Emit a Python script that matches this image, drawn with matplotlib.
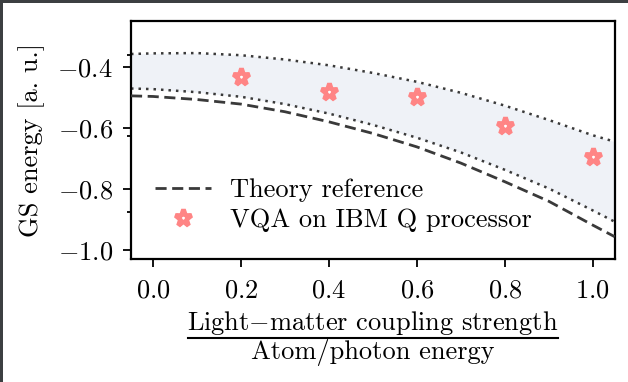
import matplotlib
matplotlib.use("Agg")
import matplotlib.pyplot as plt
from matplotlib.patches import Rectangle
from matplotlib.lines import Line2D
from matplotlib.ticker import FixedLocator

plt.rcParams['font.family'] = 'serif'
plt.rcParams['font.serif'] = ['cmr10']
plt.rcParams['mathtext.fontset'] = 'cm'
plt.rcParams['axes.formatter.use_mathtext'] = True
plt.rcParams['font.size'] = 19

# Theory reference curve
theory_x = [-0.05, 0.0, 0.1, 0.2, 0.3, 0.4, 0.5, 0.6, 0.7, 0.8, 0.9, 1.0, 1.05]
theory_y = [-0.495, -0.497, -0.507, -0.522, -0.547, -0.580, -0.618, -0.662, -0.715, -0.776, -0.840, -0.918, -0.956]

# Lower bound (dotted)
lower_y = [-0.471, -0.473, -0.483, -0.498, -0.522, -0.553, -0.590, -0.632, -0.680, -0.737, -0.798, -0.870, -0.907]

# Upper bound (dotted)
upper_y = [-0.358, -0.356, -0.355, -0.362, -0.376, -0.395, -0.420, -0.449, -0.485, -0.527, -0.574, -0.624, -0.645]

# VQA on IBM Q processor
vqa_x = [0.2, 0.4, 0.6, 0.8, 1.0]
vqa_y = [-0.433, -0.482, -0.500, -0.593, -0.695]

xticks = [0.0, 0.2, 0.4, 0.6, 0.8, 1.0]
yticks = [-1.0, -0.8, -0.6, -0.4]
yminor = [-0.875, -0.625, -0.36]

W, H = 628, 382
fig = plt.figure(figsize=(W / 100, H / 100), dpi=100)
ax_l, ax_r, ax_t, ax_b = 131, 614.7, 21, 259.3
ax = fig.add_axes([ax_l / W, 1 - ax_b / H, (ax_r - ax_l) / W, (ax_b - ax_t) / H])

line_col = '#3a3a3a'
ax.fill_between(theory_x, lower_y, upper_y, color='#eff2f7', linewidth=0, zorder=1)
ax.plot(theory_x, lower_y, linestyle=(0, (1, 2)), color=line_col, lw=1.8, zorder=2)
ax.plot(theory_x, upper_y, linestyle=(0, (1, 2)), color=line_col, lw=1.8, zorder=2)
ax.plot(theory_x, theory_y, linestyle=(0, (4, 2)), color=line_col, lw=2.0, zorder=3,
        label='Theory reference')
ax.plot(vqa_x, vqa_y, linestyle='none', marker='*', markersize=12.5,
        markerfacecolor='white', markeredgecolor='#ff8585', markeredgewidth=3.4,
        zorder=4, label='VQA on IBM Q processor')

ax.set_xlim(-0.05, 1.05)
ax.set_ylim(-1.03, -0.25)
ax.set_xticks(xticks)
ax.set_yticks(yticks)
ax.yaxis.set_minor_locator(FixedLocator(yminor))
ax.tick_params(axis='both', which='major', direction='out', length=6, width=1.3)
ax.tick_params(axis='x', which='major', pad=8)
ax.tick_params(axis='y', which='major', pad=7)
ax.tick_params(axis='y', which='minor', direction='out', length=3, width=1.3)
for s in ax.spines.values():
    s.set_linewidth(1.6)

ax.set_ylabel('GS energy [a. u.]', labelpad=9)

# x label as a fraction
cx = (ax_l + ax_r) / 2 / W
fig.text(cx, 1 - 323 / H, r'Light$-$matter coupling strength', ha='center', va='center',
         fontsize=19)
fig.text(cx, 1 - 353 / H, 'Atom/photon energy', ha='center', va='center', fontsize=19)
fig.add_artist(Line2D([188 / W, 558 / W], [1 - 337.5 / H, 1 - 337.5 / H],
                      transform=fig.transFigure, color='black', lw=1.5))

leg = ax.legend(loc='lower left', bbox_to_anchor=(0.012, 0.035), frameon=False,
                handlelength=2.1, handletextpad=0.75, labelspacing=0.25,
                borderaxespad=0.3)

# screenshot frame on left and top edge
fig.add_artist(Rectangle((0, 0), 3 / W, 1, transform=fig.transFigure,
                         facecolor='#3c3f41', edgecolor='none'))
fig.add_artist(Rectangle((0, 1 - 3 / H), 1, 3 / H, transform=fig.transFigure,
                         facecolor='#3c3f41', edgecolor='none'))

fig.savefig('out.png', dpi=100)
